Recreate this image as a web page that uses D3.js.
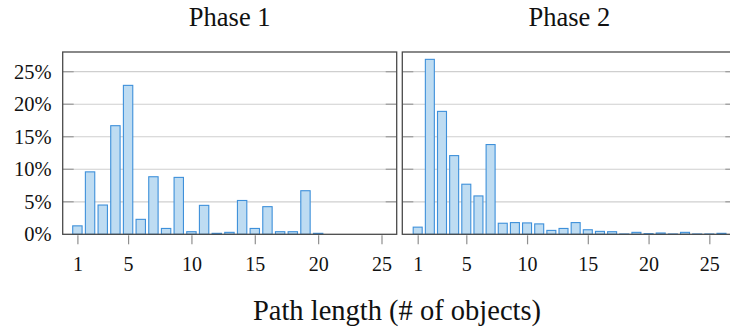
<!DOCTYPE html>
<html>
<head>
<meta charset="utf-8">
<script src="https://cdn.jsdelivr.net/npm/d3@7"></script>
<style>
  html, body { margin: 0; padding: 0; background: #fff; }
  svg { display: block; }
</style>
</head>
<body>
<svg id="chart" width="730" height="332"></svg>
<script>
// ---- data ----
const panelTitles = ["Phase 1", "Phase 2"];
const phase1Lengths = d3.range(1, 21);
const phase1Values = [1.3, 9.6, 4.5, 16.7, 22.9, 2.3, 8.85, 0.9, 8.75, 0.4,
                      4.45, 0.15, 0.3, 5.2, 0.9, 4.25, 0.4, 0.4, 6.7, 0.15];
const phase2Lengths = d3.range(1, 27);
const phase2Values = [1.1, 26.9, 18.9, 12.1, 7.7, 5.9, 13.8, 1.7, 1.8, 1.75,
                      1.6, 0.6, 0.9, 1.8, 0.7, 0.45, 0.4, 0.05, 0.3, 0.1,
                      0.2, 0.05, 0.3, 0.05, 0.05, 0.15];
const xTickValues = [1, 5, 10, 15, 20, 25];
const yTickValues = [0, 5, 10, 15, 20, 25];
const xAxisTitle = "Path length (# of objects)";

// pick an installed serif font
function pickFont(cands) {
  const c = document.createElement("canvas").getContext("2d");
  const s = "Path length (# of objects) 0123456789%";
  c.font = "40px monospace"; const wm = c.measureText(s).width;
  c.font = "40px sans-serif"; const ws = c.measureText(s).width;
  for (const f of cands) {
    c.font = `40px "${f}", monospace`; const a = c.measureText(s).width;
    c.font = `40px "${f}", sans-serif`; const b = c.measureText(s).width;
    if (a !== wm || b !== ws) { if (Math.abs(a - b) < 0.01) return f; }
  }
  return "serif";
}
const FONT = `"${pickFont(["Liberation Serif", "DejaVu Serif", "Noto Serif", "Tinos", "Times New Roman"])}", serif`;

// ---- layout ----
const svg = d3.select("#chart").style("font-family", FONT);
const plotTop = 52, plotBottom = 234.3;
const panels = [
  { title: panelTitles[0], lengths: phase1Lengths, values: phase1Values,
    x0: 62.7, x1: 396.7, domain: [-0.16, 26.2] },
  { title: panelTitles[1], lengths: phase2Lengths, values: phase2Values,
    x0: 402.3, x1: 736.3, domain: [-0.267, 27.22] }
];
const y = d3.scaleLinear().domain([0, 28.03]).range([plotBottom, plotTop]);

panels.forEach((p, i) => {
  const x = d3.scaleLinear().domain(p.domain).range([p.x0, p.x1]);
  const unit = x(1) - x(0);
  const bw = unit * 0.74;
  const g = svg.append("g");

  // gridlines
  g.selectAll("line.grid").data(yTickValues.filter(v => v > 0)).join("line")
    .attr("x1", p.x0).attr("x2", p.x1)
    .attr("y1", d => y(d)).attr("y2", d => y(d))
    .attr("stroke", "#cfcfcf").attr("stroke-width", 1.2);
  // inner ticks left & right
  [[p.x0, p.x0 + 11], [p.x1 - 11, p.x1]].forEach(([a, b]) => {
    g.selectAll(null).data(yTickValues.filter(v => v > 0)).join("line")
      .attr("x1", a).attr("x2", b)
      .attr("y1", d => y(d)).attr("y2", d => y(d))
      .attr("stroke", "#9a9a9a").attr("stroke-width", 1.2);
  });

  // bars
  g.selectAll("rect.bar").data(p.lengths.map((l, k) => ({ l, v: p.values[k] }))).join("rect")
    .attr("x", d => x(d.l) - bw / 2)
    .attr("width", bw)
    .attr("y", d => y(d.v))
    .attr("height", d => plotBottom - y(d.v))
    .attr("fill", "#bedcf2")
    .attr("stroke", "#3e90da")
    .attr("stroke-width", 1.1);

  // frame
  g.append("rect")
    .attr("x", p.x0).attr("y", plotTop)
    .attr("width", p.x1 - p.x0).attr("height", plotBottom - plotTop)
    .attr("fill", "none").attr("stroke", "#4a4a4a").attr("stroke-width", 1.3);

  // x axis
  const xa = svg.append("g").attr("transform", `translate(0,${plotBottom})`)
    .call(d3.axisBottom(x).tickValues(xTickValues).tickSize(10).tickPadding(13).tickFormat(d3.format("d")));
  xa.attr("font-family", null).attr("font-size", null);
  xa.select(".domain").remove();
  xa.selectAll(".tick line").attr("stroke", "#8f8f8f").attr("stroke-width", 1.2)
    .attr("y1", 1);
  xa.selectAll(".tick text").style("font-size", "20px").style("font-family", FONT).attr("fill", "#111");

  // y axis labels (left panel only)
  if (i === 0) {
    const ya = svg.append("g").attr("transform", `translate(${p.x0},0)`)
      .call(d3.axisLeft(y).tickValues(yTickValues).tickSize(0).tickPadding(11)
        .tickFormat(d => d + "%"));
    ya.attr("font-family", null).attr("font-size", null);
    ya.select(".domain").remove();
    ya.selectAll(".tick text").style("font-size", "20.5px").style("font-family", FONT).attr("fill", "#111");
  }

  // panel title
  svg.append("text")
    .attr("x", (p.x0 + p.x1) / 2).attr("y", 26)
    .attr("text-anchor", "middle")
    .style("font-size", "26.5px").style("font-family", FONT).attr("fill", "#111")
    .text(p.title);
});

svg.append("text")
  .attr("x", 397).attr("y", 320)
  .attr("text-anchor", "middle")
  .style("font-size", "28.5px").style("font-family", FONT).attr("fill", "#111")
  .text(xAxisTitle);
</script>
</body>
</html>
